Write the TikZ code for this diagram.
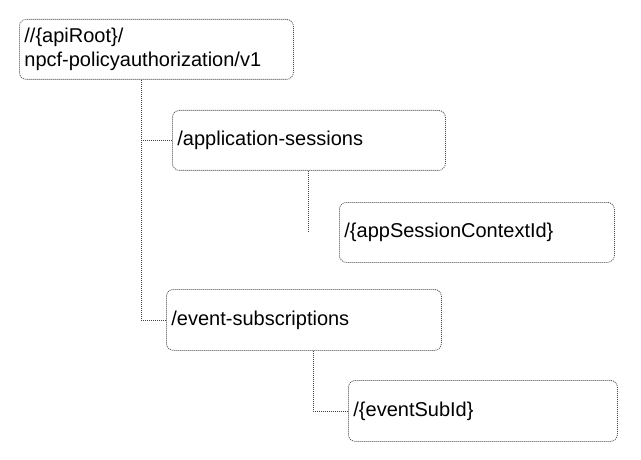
\documentclass[tikz,border=0pt]{standalone}
\usepackage{fontspec}
\setmainfont{Liberation Sans}
\begin{document}
\begin{tikzpicture}[x=1pt,y=-1pt,
  box/.style={draw=black!70, line width=0.8pt, dash pattern=on 1pt off 1pt, rounded corners=7pt,
    anchor=north west, align=left, inner xsep=5pt, inner ysep=0pt,
    font=\fontsize{20}{24.5}\selectfont},
  conn/.style={draw=black!75, line width=0.8pt, dash pattern=on 1pt off 1pt}]
\useasboundingbox (0,0) rectangle (641,460);
\node[box, text width=264pt, minimum height=60pt] (b1) at (19,19) {//\{apiRoot\}/\\npcf-policyauthorization/v1};
\node[box, text width=263pt, minimum height=60pt] (b2) at (172,110) {/application-sessions};
\node[box, text width=265pt, minimum height=60pt] (b3) at (339,202) {/\{appSessionContextId\}};
\node[box, text width=265pt, minimum height=61pt] (b4) at (166,289) {/event-subscriptions};
\node[box, text width=259pt, minimum height=61pt] (b5) at (348,380) {/\{eventSubId\}};
\coordinate (x1) at (141,0);
\coordinate (x2) at (308,0);
\coordinate (x4) at (313,0);
\coordinate (e2) at (308,232);
\draw[conn] (b1.south -| x1) |- (b4.west);
\draw[conn] (b2.west -| x1) -- (b2.west);
\draw[conn] (b2.south -| x2) -- (e2);
\draw[conn] (b4.south -| x4) |- (b5.west);
\end{tikzpicture}
\end{document}
